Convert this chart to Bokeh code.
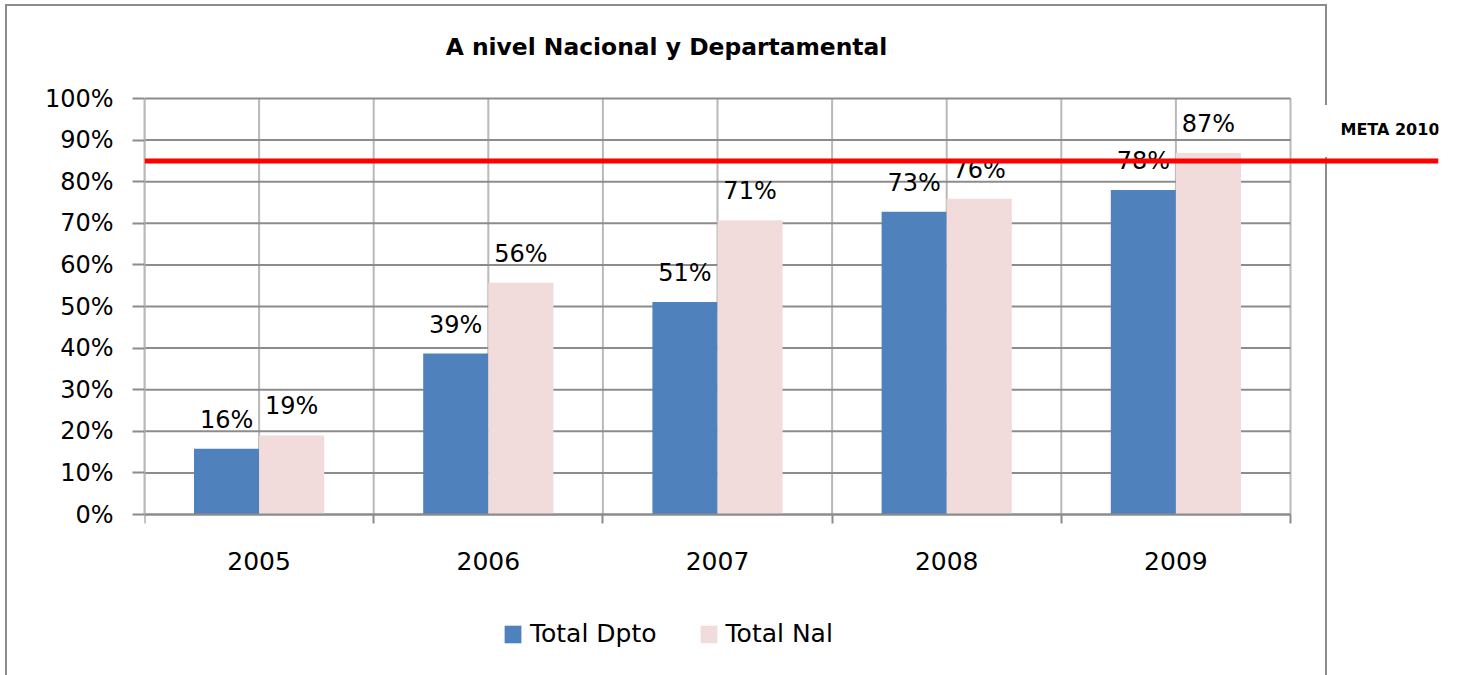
import numpy as np
from bokeh.plotting import figure
from bokeh.models import (ColumnDataSource, Range1d, FixedTicker, NumeralTickFormatter,
                          Span, Label, Legend)
from bokeh.core.properties import value
from bokeh.embed import file_html
from bokeh.resources import INLINE

# ---------------- data ----------------
years = ["2005", "2006", "2007", "2008", "2009"]
total_dpto = [0.158, 0.387, 0.511, 0.728, 0.780]
total_nal = [0.190, 0.557, 0.7075, 0.759, 0.869]
meta_2010 = 0.85
y_ticks = [0.0, 0.1, 0.2, 0.3, 0.4, 0.5, 0.6, 0.7, 0.8, 0.9, 1.0]
series_names = ["Total Dpto", "Total Nal"]
title_text = "A nivel Nacional y Departamental"
meta_text = "META 2010"

# ---------------- style / layout ----------------
FONT = "DejaVu Sans"
BLUE = "#4F81BD"
PINK = "#F2DCDB"
GRID_H = "#8c8c8c"
GRID_V = "#b9b9b9"
W, H = 1458, 675
FRAME_L, FRAME_R, FRAME_T, FRAME_B = 144, 1438, 0, 665
ZERO_PX, FULL_PX = 514, 98   # pixel rows of the 0 % and 100 % lines
CAT_PX = 229.2               # pixel width of one category
BAR_W = 0.284

n = len(years)
xi = np.arange(n)
px_per_unit = ZERO_PX - FULL_PX
x_end = -0.5 + (FRAME_R - FRAME_L) / CAT_PX       # frame also holds the target-label area
y_start = -(FRAME_B - ZERO_PX) / px_per_unit      # ... axis labels and legend
y_end = 1 + (FULL_PX - FRAME_T) / px_per_unit     # ... and the title

src = ColumnDataSource(dict(
    x_d=[float(v) - BAR_W / 2 for v in xi],
    x_n=[float(v) + BAR_W / 2 for v in xi],
    dpto=total_dpto,
    nal=total_nal,
    lab_d=[f"{round(v * 100):.0f}%" for v in total_dpto],
    lab_n=[f"{round(v * 100):.0f}%" for v in total_nal],
))

p = figure(width=W, height=H, x_range=Range1d(-0.5, x_end), y_range=Range1d(y_start, y_end),
           output_backend="svg", toolbar_location=None,
           min_border_left=FRAME_L, min_border_right=W - FRAME_R,
           min_border_top=FRAME_T, min_border_bottom=H - FRAME_B)
p.title.visible = False
p.outline_line_color = None
p.background_fill_color = None
p.border_fill_color = None
g = "linear-gradient(#8c8c8c, #8c8c8c)"
p.styles = {"background": (
    f"{g} 5px 4px / 2px 700px no-repeat, "
    f"{g} 5px 4px / 1322px 2px no-repeat, "
    f"{g} 1325px 4px / 2px 101px no-repeat, "
    f"{g} 1325px 157px / 2px 600px no-repeat, #ffffff")}

# title
p.add_layout(Label(x=522, y=FRAME_B - 46, x_units="screen", y_units="screen",
                   text=title_text, text_font=FONT, text_font_size="23.4px",
                   text_font_style="bold", text_color="black",
                   text_align="center", text_baseline="alphabetic"))

# gridlines (only over the category area, 0..100 %)
grid_x = [i * 0.5 - 0.5 for i in range(2 * n + 1)]
p.segment(x0=grid_x, x1=grid_x, y0=0, y1=1, line_color=GRID_V, line_width=2)
p.segment(x0=-0.5, x1=n - 0.5, y0=y_ticks, y1=y_ticks, line_color=GRID_H, line_width=2)
p.xgrid.visible = False
p.ygrid.visible = False

# bars
r1 = p.vbar(x="x_d", top="dpto", width=BAR_W, source=src, fill_color=BLUE, line_color=None)
r2 = p.vbar(x="x_n", top="nal", width=BAR_W, source=src, fill_color=PINK, line_color=None)

# data labels
for xcol, ycol, lcol in (("x_d", "dpto", "lab_d"), ("x_n", "nal", "lab_n")):
    p.text(x=xcol, y=ycol, text=lcol, source=src, text_align="center",
           text_baseline="alphabetic", y_offset=-29, text_font=value(FONT),
           text_font_size="24px", text_color="black")

# target line + label
p.add_layout(Span(location=meta_2010, dimension="width", line_color="#FF0000", line_width=5))
p.add_layout(Label(x=1196, y=meta_2010, x_units="screen", y_units="data", y_offset=31,
                   text=meta_text, text_font=FONT, text_font_size="16px",
                   text_font_style="bold", text_color="black", text_baseline="middle"))

# x axis, drawn at the 0 % line
xa = p.xaxis[0]
xa.fixed_location = 0
xa.bounds = (-0.5, n - 0.5)
xa.ticker = FixedTicker(ticks=[float(v) for v in xi],
                        minor_ticks=[float(v) - 0.5 for v in range(n + 1)])
xa.major_label_overrides = {int(i): y for i, y in enumerate(years)}
xa.major_tick_line_color = None
xa.major_tick_out = 9
xa.major_tick_in = 0
xa.minor_tick_line_color = GRID_H
xa.minor_tick_line_width = 2
xa.minor_tick_out = 9
xa.minor_tick_in = 0
xa.axis_line_color = GRID_H
xa.axis_line_width = 2
xa.major_label_standoff = 28
xa.major_label_text_font = FONT
xa.major_label_text_font_size = "25px"
xa.major_label_text_color = "black"

# y axis
ya = p.yaxis[0]
ya.bounds = (0, 1)
ya.ticker = FixedTicker(ticks=y_ticks)
ya.formatter = NumeralTickFormatter(format="0%")
ya.major_tick_out = 12
ya.major_tick_in = 0
ya.major_tick_line_color = GRID_H
ya.major_tick_line_width = 2
ya.minor_tick_line_color = None
ya.axis_line_color = GRID_V
ya.axis_line_width = 2
ya.major_label_standoff = 19
ya.major_label_text_font = FONT
ya.major_label_text_font_size = "24px"
ya.major_label_text_color = "black"

# legend under the axis
lg = Legend(items=[(series_names[0], [r1]), (series_names[1], [r2])],
            orientation="horizontal", location=(358, 17), margin=0, padding=0,
            border_line_color=None, background_fill_alpha=0,
            glyph_width=21, glyph_height=22, label_standoff=7, spacing=41,
            label_text_font=FONT, label_text_font_size="25px", label_text_color="black")
p.add_layout(lg)

open("out.html", "w").write(file_html(p, INLINE))
